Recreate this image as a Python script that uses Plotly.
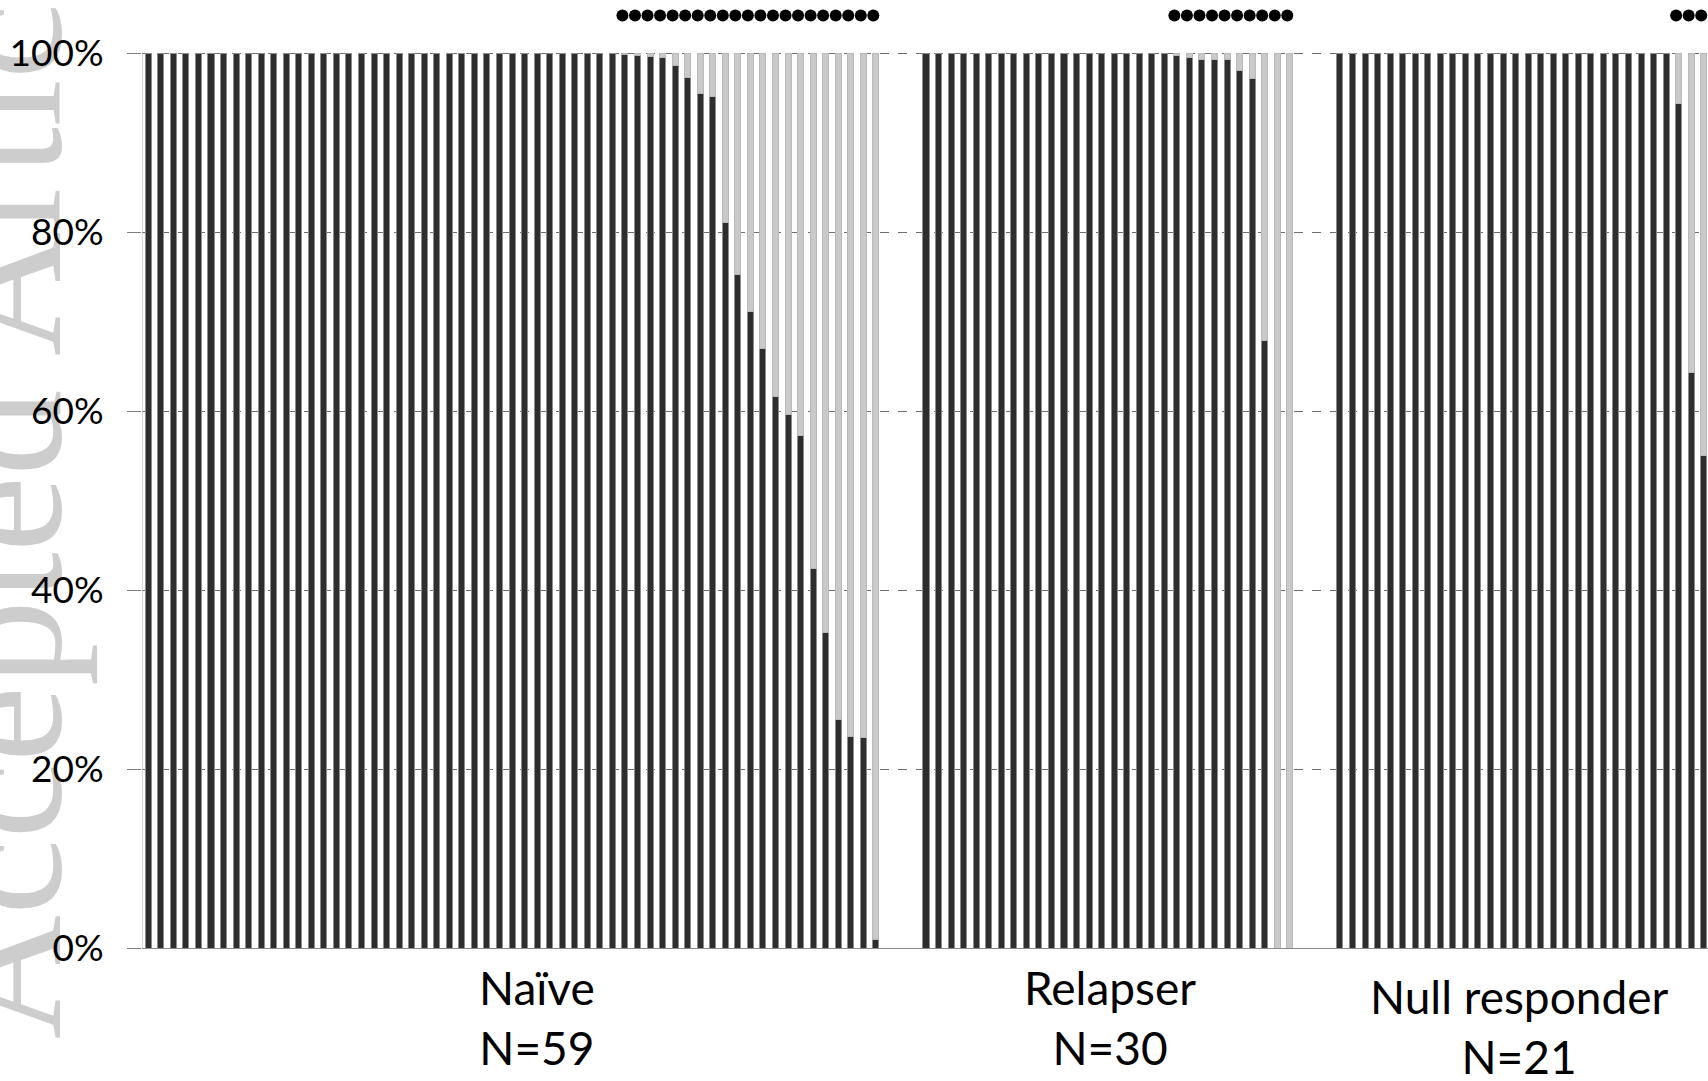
import plotly.graph_objects as go

# ---- data (percent of the dark component per patient) ----
groups = ["Naïve", "Relapser", "Null responder"]
group_n = ["N=59", "N=30", "N=21"]

naive_pct = [100] * 38 + [99.8, 99.7, 99.6, 99.5, 98.6, 97.3, 95.5, 95.1, 81.1, 75.2,
                          71.1, 67.0, 61.6, 59.6, 57.3, 42.4, 35.2, 25.5, 23.6, 23.5, 1.0]
relapser_pct = [100] * 20 + [99.7, 99.5, 99.3, 99.3, 99.3, 98.0, 97.2, 67.9, 0.0, 0.0]
null_pct = [100] * 27 + [94.4, 64.3, 55.0]   # bars visible before the image is cut

tick_vals = [0, 20, 40, 60, 80, 100]
tick_text = ["0%", "20%", "40%", "60%", "80%", "100%"]

series = [naive_pct, relapser_pct, null_pct]
GAP = 3  # empty category slots between groups

# ---- build positions ----
xs, dark, light, dots_x = [], [], [], []
pos = 0
for vals in series:
    for v in vals:
        xs.append(pos)
        dark.append(v if v > 0 else None)
        light.append(100 - v if v < 100 else None)
        if v < 100:
            dots_x.append(pos)
        pos += 1
    pos += GAP

fig = go.Figure()
fig.add_trace(go.Bar(x=xs, y=dark, width=0.48,
                     marker=dict(color="#2e2e2e", line=dict(color="#8c8c8c", width=1)),
                     showlegend=False))
fig.add_trace(go.Bar(x=xs, y=light, width=0.48,
                     marker=dict(color="#c9c9c9", line=dict(color="#b8b8b8", width=1)),
                     showlegend=False))
fig.add_trace(go.Scatter(x=[x - 0.2 for x in dots_x], y=[104.2] * len(dots_x), mode="markers",
                         marker=dict(color="black", size=12), cliponaxis=False,
                         showlegend=False))

W, H = 1708, 1081
ML, MR, MT, MB = 142, 0, 0, 133
PW, PH = W - ML - MR, H - MT - MB
y_top = PH / 8.95  # 100% sits 53 px below the top edge

fig.update_layout(
    width=W, height=H,
    margin=dict(l=ML, r=MR, t=MT, b=MB),
    barmode="stack",
    plot_bgcolor="white", paper_bgcolor="white",
    font=dict(family="Lato, Calibri, sans-serif", color="black"),
    xaxis=dict(range=[-0.5, 124.34], showticklabels=False, ticks="", showgrid=False,
               zeroline=False, showline=True, linecolor="#8a8a8a", linewidth=1),
    yaxis=dict(range=[0, y_top], tickvals=tick_vals, ticktext=tick_text,
               tickfont=dict(size=37, family="Lato, sans-serif", color="black"),
               ticks="outside", ticklen=14, tickcolor="#808080", tickwidth=1,
               ticklabelstandoff=16,
               showgrid=True, gridcolor="#6e6e6e", griddash="dash", gridwidth=1,
               zeroline=False, showline=False),
)

# vertical axis line from 0% to 100%
fig.add_shape(type="line", xref="x", yref="y", x0=-0.5, x1=-0.5, y0=0, y1=100,
              line=dict(color="#b5b5b5", width=1), layer="above")

# watermark, drawn below everything
cx = (-17 - ML) / PW
cy = (H - MB - 459) / PH
fig.add_shape(type="rect", xref="paper", yref="paper",
              x0=cx - 0.01, x1=cx + 0.01, y0=cy - 0.01, y1=cy + 0.01,
              line=dict(width=0), fillcolor="rgba(0,0,0,0)", layer="below",
              label=dict(text="Accepted Article", textangle=-90, textposition="middle center",
                         font=dict(family="Liberation Serif, Times New Roman, serif",
                                   size=172, color="#cdcdcd")))

# category labels
label_x = [31.0, 76.7, 109.3]
label_y = [-0.0736, -0.0736, -0.0826]
for g, n, lx, ly in zip(groups, group_n, label_x, label_y):
    fig.add_annotation(text=f"{g}<br>{n}", xref="x", yref="paper", x=lx, y=ly,
                       xanchor="center", yanchor="middle", showarrow=False,
                       font=dict(size=46, family="Lato, sans-serif", color="black"))

fig.write_html("out.html", config={"displayModeBar": False},
               post_script="document.body.style.margin='0';document.body.style.overflow='hidden';")
